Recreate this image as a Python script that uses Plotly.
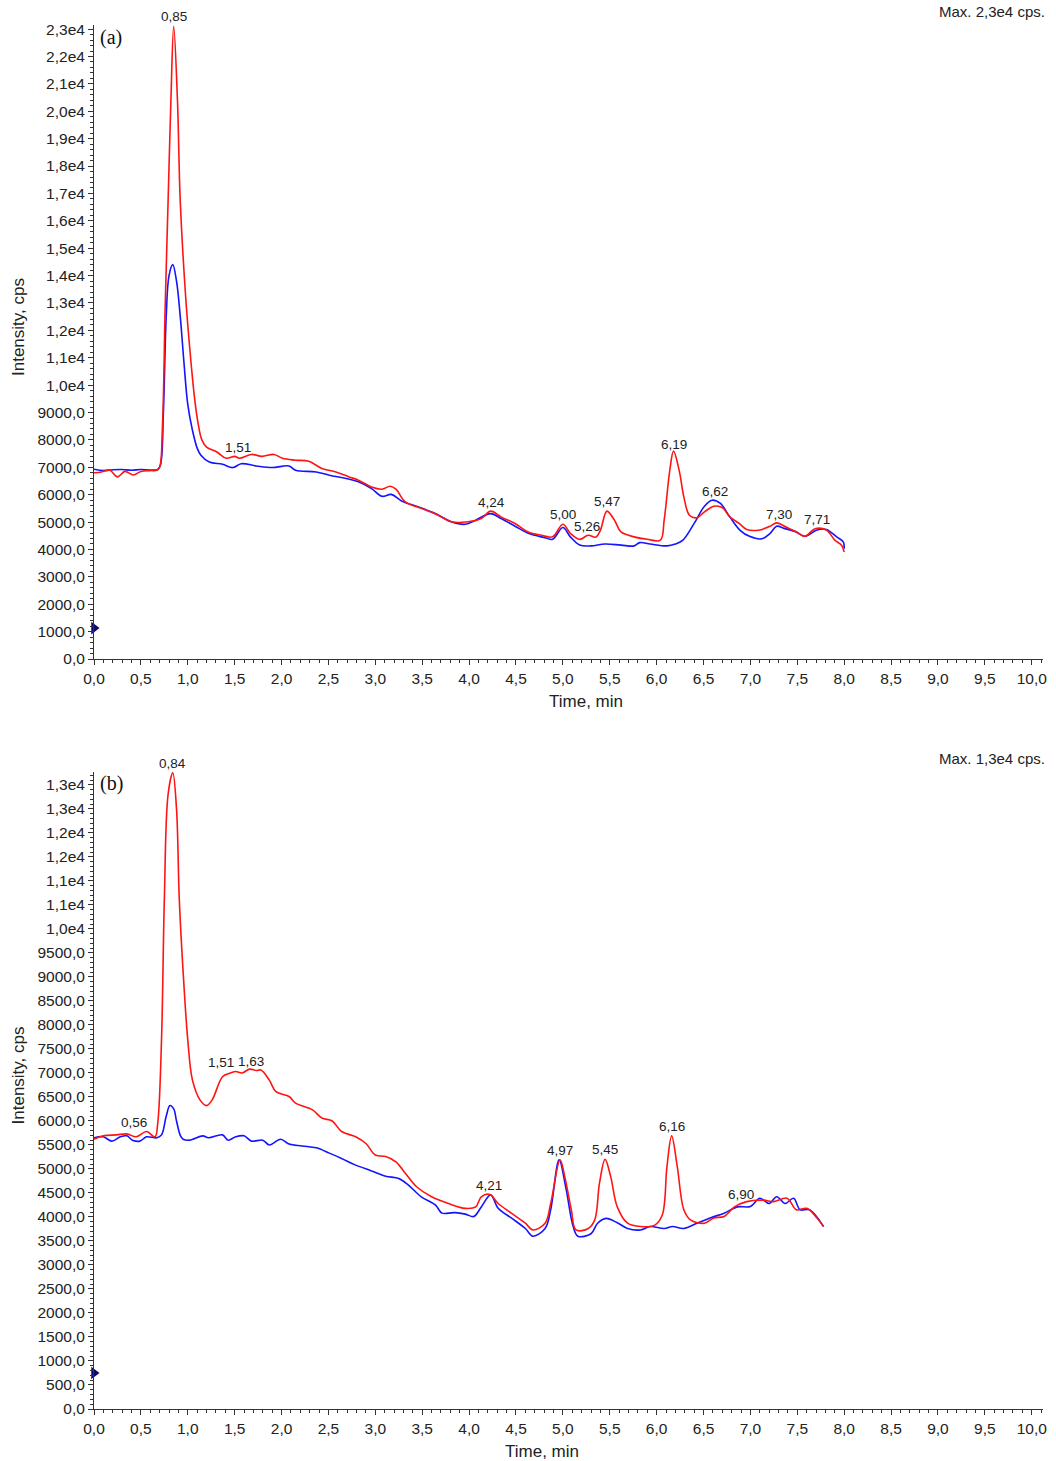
import numpy as np
import plotly.graph_objects as go

# ---------------- data: panel (a) ----------------
t_red_a = [0.00, 0.08, 0.17, 0.25, 0.33, 0.42, 0.50, 0.60, 0.67, 0.70, 0.73, 0.76, 0.79, 0.82, 0.85,
           0.89, 0.92, 0.98, 1.03, 1.07, 1.11, 1.15, 1.20, 1.31, 1.41, 1.50, 1.55, 1.68, 1.79, 1.92,
           2.01, 2.15, 2.29, 2.43, 2.58, 2.72, 2.82, 2.96, 3.07, 3.16, 3.22, 3.32, 3.49, 3.67, 3.81,
           3.99, 4.13, 4.23, 4.34, 4.49, 4.63, 4.77, 4.89, 5.00, 5.08, 5.18, 5.27, 5.35, 5.40, 5.47,
           5.55, 5.62, 5.76, 5.90, 6.04, 6.08, 6.14, 6.18, 6.24, 6.29, 6.35, 6.43, 6.51, 6.61, 6.70,
           6.78, 6.88, 6.96, 7.10, 7.21, 7.28, 7.39, 7.49, 7.58, 7.69, 7.81, 7.90, 7.97, 8.00]
i_red_a = [6800, 6830, 6890, 6650, 6850, 6720, 6850, 6880, 6890, 7000, 8500, 13000, 16700, 20400, 23100,
           20400, 16700, 13100, 11000, 9600, 8600, 8000, 7740, 7560, 7330, 7400, 7330, 7470, 7400, 7470,
           7330, 7260, 7220, 6960, 6830, 6650, 6530, 6280, 6200, 6310, 6200, 5740, 5500, 5250, 5010,
           5010, 5130, 5400, 5190, 4950, 4640, 4520, 4460, 4920, 4590, 4370, 4520, 4450, 4700, 5400,
           5070, 4640, 4460, 4370, 4340, 5070, 6890, 7590, 6890, 5920, 5250, 5160, 5370, 5580, 5530,
           5190, 4950, 4730, 4710, 4850, 4970, 4800, 4640, 4480, 4760, 4710, 4340, 4160, 3910]

t_blue_a = [0.00, 0.10, 0.20, 0.30, 0.40, 0.50, 0.60, 0.68, 0.71, 0.74, 0.77, 0.80, 0.84, 0.88, 0.92,
            0.96, 1.00, 1.05, 1.10, 1.14, 1.23, 1.37, 1.48, 1.57, 1.73, 1.90, 2.08, 2.15, 2.37, 2.51,
            2.69, 2.82, 2.96, 3.07, 3.17, 3.28, 3.46, 3.64, 3.81, 3.96, 4.07, 4.23, 4.34, 4.49, 4.63,
            4.81, 4.89, 5.00, 5.08, 5.18, 5.30, 5.45, 5.62, 5.76, 5.82, 5.93, 6.11, 6.20, 6.28, 6.40,
            6.51, 6.59, 6.68, 6.78, 6.89, 6.99, 7.12, 7.21, 7.28, 7.36, 7.49, 7.58, 7.71, 7.81, 7.92,
            7.99, 8.00]
i_blue_a = [6930, 6880, 6910, 6920, 6890, 6920, 6900, 6920, 7100, 9000, 12500, 14000, 14400, 13800, 12500,
            10800, 9300, 8350, 7700, 7440, 7190, 7110, 6990, 7130, 7050, 6990, 7050, 6890, 6830, 6710,
            6590, 6470, 6220, 5940, 6010, 5770, 5550, 5310, 5010, 4920, 5070, 5310, 5130, 4850, 4590,
            4430, 4370, 4800, 4460, 4160, 4130, 4200, 4160, 4130, 4250, 4200, 4130, 4200, 4340, 4950,
            5580, 5800, 5680, 5190, 4700, 4480, 4390, 4590, 4850, 4770, 4640, 4480, 4710, 4730, 4460,
            4280, 4030]

peak_t_a = [0.85, 1.51, 4.24, 5.00, 5.26, 5.47, 6.19, 6.62, 7.30, 7.71]
peak_lbl_a = ["0,85", "1,51", "4,24", "5,00", "5,26", "5,47", "6,19", "6,62", "7,30", "7,71"]

# ---------------- data: panel (b) ----------------
t_red_b = [0.00, 0.10, 0.24, 0.35, 0.45, 0.56, 0.65, 0.68, 0.72, 0.75, 0.79, 0.84, 0.88, 0.91, 0.96,
           1.00, 1.05, 1.13, 1.20, 1.26, 1.37, 1.44, 1.51, 1.58, 1.66, 1.73, 1.78, 1.87, 1.94, 2.08,
           2.15, 2.33, 2.43, 2.54, 2.64, 2.79, 2.90, 3.00, 3.11, 3.22, 3.32, 3.44, 3.60, 3.78, 3.96,
           4.07, 4.13, 4.22, 4.31, 4.45, 4.60, 4.68, 4.81, 4.87, 4.97, 5.02, 5.09, 5.14, 5.27, 5.34,
           5.39, 5.45, 5.51, 5.58, 5.69, 5.83, 5.98, 6.06, 6.11, 6.16, 6.22, 6.29, 6.36, 6.51, 6.61,
           6.72, 6.83, 6.96, 7.14, 7.25, 7.39, 7.49, 7.60, 7.71, 7.78]
i_red_b = [5620, 5690, 5710, 5730, 5670, 5780, 5670, 5960, 7690, 10600, 12800, 13250, 12500, 10600, 8800,
           7690, 6850, 6440, 6320, 6440, 6920, 6990, 7030, 7000, 7080, 7050, 7060, 6850, 6610, 6510,
           6370, 6230, 6060, 6000, 5780, 5670, 5530, 5290, 5260, 5150, 4910, 4630, 4420, 4280, 4180,
           4210, 4420, 4470, 4280, 4080, 3870, 3730, 3870, 4280, 5190, 4840, 4150, 3730, 3760, 3940,
           4700, 5200, 4840, 4210, 3870, 3800, 3830, 4040, 5050, 5690, 5050, 4150, 3940, 3870, 3980,
           4010, 4210, 4320, 4350, 4320, 4390, 4150, 4180, 3980, 3800]

t_blue_b = [0.00, 0.10, 0.19, 0.28, 0.35, 0.41, 0.49, 0.56, 0.67, 0.72, 0.77, 0.81, 0.85, 0.88, 0.92,
            0.95, 1.02, 1.16, 1.22, 1.37, 1.43, 1.51, 1.60, 1.68, 1.80, 1.87, 1.99, 2.08, 2.22, 2.37,
            2.51, 2.64, 2.79, 2.96, 3.11, 3.25, 3.35, 3.49, 3.64, 3.71, 3.78, 3.85, 3.96, 4.05, 4.13,
            4.23, 4.31, 4.45, 4.60, 4.68, 4.81, 4.87, 4.96, 5.03, 5.11, 5.16, 5.30, 5.37, 5.46, 5.58,
            5.69, 5.83, 5.93, 6.08, 6.17, 6.29, 6.43, 6.57, 6.72, 6.86, 7.00, 7.10, 7.20, 7.28, 7.37,
            7.46, 7.53, 7.63, 7.78]
i_blue_b = [5650, 5670, 5580, 5670, 5690, 5600, 5580, 5670, 5650, 5710, 6100, 6320, 6250, 6000, 5700,
            5620, 5600, 5690, 5650, 5710, 5600, 5670, 5690, 5580, 5600, 5500, 5620, 5520, 5480, 5440,
            5330, 5220, 5080, 4960, 4850, 4800, 4670, 4420, 4250, 4080, 4080, 4090, 4060, 4010, 4210,
            4460, 4180, 3980, 3760, 3600, 3760, 4150, 5190, 4630, 3800, 3600, 3650, 3870, 3970, 3880,
            3760, 3730, 3800, 3760, 3800, 3760, 3870, 3980, 4080, 4210, 4220, 4390, 4280, 4420, 4280,
            4390, 4150, 4150, 3800]

peak_t_b = [0.56, 0.84, 1.51, 1.63, 4.21, 4.97, 5.45, 6.16, 6.90]
peak_lbl_b = ["0,56", "0,84", "1,51", "1,63", "4,21", "4,97", "5,45", "6,16", "6,90"]

# threshold markers on the y axis
thr_a = [1130]
thr_b = [750]

# axis ticks
x_tickvals = [i * 0.5 for i in range(21)]
x_ticktext = ["0,0", "0,5", "1,0", "1,5", "2,0", "2,5", "3,0", "3,5", "4,0", "4,5", "5,0", "5,5",
              "6,0", "6,5", "7,0", "7,5", "8,0", "8,5", "9,0", "9,5", "10,0"]
y_tickvals_a = [i * 1000 for i in range(24)]
y_ticktext_a = ["0,0", "1000,0", "2000,0", "3000,0", "4000,0", "5000,0", "6000,0", "7000,0", "8000,0",
                "9000,0", "1,0e4", "1,1e4", "1,2e4", "1,3e4", "1,4e4", "1,5e4", "1,6e4", "1,7e4",
                "1,8e4", "1,9e4", "2,0e4", "2,1e4", "2,2e4", "2,3e4"]
y_tickvals_b = [i * 500 for i in range(27)]
y_ticktext_b = ["0,0", "500,0", "1000,0", "1500,0", "2000,0", "2500,0", "3000,0", "3500,0", "4000,0",
                "4500,0", "5000,0", "5500,0", "6000,0", "6500,0", "7000,0", "7500,0", "8000,0",
                "8500,0", "9000,0", "9500,0", "1,0e4", "1,1e4", "1,1e4", "1,2e4", "1,2e4", "1,3e4",
                "1,3e4"]

RED = "rgb(255,20,20)"
BLUE = "rgb(20,20,255)"
FONT = "Liberation Sans, Arial, sans-serif"

fig = go.Figure()

def add_panel(xa, ya, tb, ib, tr, ir, thr):
    fig.add_trace(go.Scatter(x=tb, y=ib, mode="lines", line=dict(color=BLUE, width=1.6, shape="spline", smoothing=1.0),
                             xaxis=xa, yaxis=ya, showlegend=False, hoverinfo="skip"))
    fig.add_trace(go.Scatter(x=tr, y=ir, mode="lines", line=dict(color=RED, width=1.6, shape="spline", smoothing=1.0),
                             xaxis=xa, yaxis=ya, showlegend=False, hoverinfo="skip"))
    fig.add_trace(go.Scatter(x=[0] * len(thr), y=thr, mode="markers",
                             marker=dict(symbol="triangle-right", size=11, color="rgb(10,10,110)"),
                             cliponaxis=False, xaxis=xa, yaxis=ya, showlegend=False, hoverinfo="skip"))

add_panel("x", "y", t_blue_a, i_blue_a, t_red_a, i_red_a, thr_a)
add_panel("x2", "y2", t_blue_b, i_blue_b, t_red_b, i_red_b, thr_b)

annotations = []

def peak_labels(times, labels, tb, ib, tr, ir, xref, yref, shifts):
    for t, lbl in zip(times, labels):
        yv = max(np.interp(t, tr, ir), np.interp(t, tb, ib))
        annotations.append(dict(x=t, y=yv, xref=xref, yref=yref, text=lbl, showarrow=False,
                                yanchor="bottom", yshift=0, xshift=shifts.get(lbl, 0),
                                font=dict(family=FONT, size=13.5, color="#222")))

peak_labels(peak_t_a, peak_lbl_a, t_blue_a, i_blue_a, t_red_a, i_red_a, "x", "y", {"1,51": 2})
peak_labels(peak_t_b, peak_lbl_b, t_blue_b, i_blue_b, t_red_b, i_red_b, "x2", "y2",
            {"0,56": -13, "1,51": -15, "1,63": 4})

for yref, xref, lab, mx in [("y domain", "x domain", "(a)", "Max. 2,3e4 cps."),
                            ("y2 domain", "x2 domain", "(b)", "Max. 1,3e4 cps.")]:
    annotations.append(dict(x=0, y=1, xref=xref, yref=yref, text=lab, showarrow=False,
                            xanchor="left", yanchor="middle", xshift=4, yshift=-12,
                            font=dict(family="Liberation Serif, Times New Roman, serif", size=20, color="#111")))
    annotations.append(dict(x=1, y=1, xref=xref, yref=yref, text=mx, showarrow=False,
                            xanchor="right", yanchor="bottom", xshift=4, yshift=3,
                            font=dict(family=FONT, size=15, color="#222")))

annotations.append(dict(x=5.25, y=0, xref="x", yref="y domain", text="Time, min", showarrow=False,
                        yanchor="middle", yshift=-42, font=dict(family=FONT, size=17, color="#222")))
annotations.append(dict(x=4.78, y=0, xref="x2", yref="y2 domain", text="Time, min", showarrow=False,
                        yanchor="middle", yshift=-42, font=dict(family=FONT, size=17, color="#222")))
annotations.append(dict(x=0, y=0.5, xref="paper", yref="y domain", text="Intensity, cps", showarrow=False,
                        textangle=-90, xanchor="center", yanchor="middle", xshift=-76, yshift=15,
                        font=dict(family=FONT, size=17, color="#222")))
annotations.append(dict(x=0, y=0.5, xref="paper", yref="y2 domain", text="Intensity, cps", showarrow=False,
                        textangle=-90, xanchor="center", yanchor="middle", xshift=-76, yshift=15,
                        font=dict(family=FONT, size=17, color="#222")))

xcommon = dict(range=[0, 10.12], tickvals=x_tickvals, ticktext=x_ticktext, ticks="outside", ticklen=5,
               tickwidth=1, tickcolor="#333", showline=True, linecolor="#333", linewidth=1,
               showgrid=False, zeroline=False, tickfont=dict(family=FONT, size=15.5, color="#222"),
               minor=dict(dtick=0.1, ticks="outside", ticklen=3, tickcolor="#333", showgrid=False))

fig.update_layout(
    width=1056, height=1461,
    margin=dict(l=94, r=9, t=25, b=52),
    paper_bgcolor="white", plot_bgcolor="white",
    xaxis=dict(**xcommon, anchor="y"),
    xaxis2=dict(**xcommon, anchor="y2"),
    yaxis=dict(domain=[0.5419, 1.0], range=[0, 23150], tickvals=y_tickvals_a, ticktext=y_ticktext_a,
               ticks="outside", ticklen=5, tickcolor="#333", showline=True, linecolor="#333", linewidth=1,
               showgrid=False, zeroline=False, tickfont=dict(family=FONT, size=15.5, color="#222"),
               minor=dict(dtick=200, ticks="outside", ticklen=3, tickcolor="#333", showgrid=False)),
    yaxis2=dict(domain=[0.0, 0.4603], range=[0, 13270], tickvals=y_tickvals_b, ticktext=y_ticktext_b,
                ticks="outside", ticklen=5, tickcolor="#333", showline=True, linecolor="#333", linewidth=1,
                showgrid=False, zeroline=False, tickfont=dict(family=FONT, size=15.5, color="#222"),
                minor=dict(dtick=100, ticks="outside", ticklen=3, tickcolor="#333", showgrid=False)),
    annotations=annotations,
)

fig.write_html("out.html")
